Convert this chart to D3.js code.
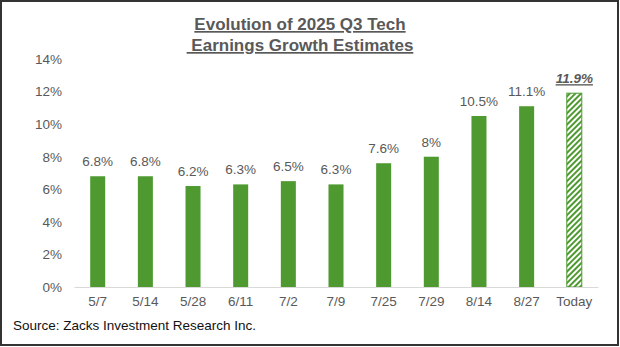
<!DOCTYPE html>
<html>
<head>
<meta charset="utf-8">
<script src="https://cdn.jsdelivr.net/npm/d3@7"></script>
<style>
  html, body { margin: 0; padding: 0; background: #fff; }
  svg { display: block; font-family: "Liberation Sans", Arial, sans-serif; }
</style>
</head>
<body>
<svg id="chart" width="620" height="347"></svg>
<script>
// Q3 2025 tech earnings growth estimates by revision date
const categories = ["5/7", "5/14", "5/28", "6/11", "7/2", "7/9", "7/25", "7/29", "8/14", "8/27", "Today"];
const values = [6.8, 6.8, 6.2, 6.3, 6.5, 6.3, 7.6, 8, 10.5, 11.1, 11.9];
const valueLabels = ["6.8%", "6.8%", "6.2%", "6.3%", "6.5%", "6.3%", "7.6%", "8%", "10.5%", "11.1%", "11.9%"];
const yTicks = [0, 2, 4, 6, 8, 10, 12, 14];
const titleLines = ["Evolution of 2025 Q3 Tech", " Earnings Growth Estimates"];
const sourceText = "Source: Zacks Investment Research Inc.";

const W = 620, H = 347;
const green = "#4e9a31";
const textGray = "#595959";

const svg = d3.select("#chart");

// Hatched fill for the current estimate
const defs = svg.append("defs");
const pat = defs.append("pattern")
  .attr("id", "hatch")
  .attr("patternUnits", "userSpaceOnUse")
  .attr("width", 4).attr("height", 4)
  .attr("patternTransform", "rotate(45)");
pat.append("rect").attr("width", 4).attr("height", 4).attr("fill", "#fff");
pat.append("rect").attr("width", 2).attr("height", 4).attr("fill", green);

// Outer frame
svg.append("rect")
  .attr("x", 1).attr("y", 1).attr("width", W - 3).attr("height", H - 3)
  .attr("fill", "#fff").attr("stroke", "#333").attr("stroke-width", 2);

// Title
const title = svg.append("text")
  .attr("text-anchor", "middle")
  .attr("font-weight", "bold")
  .attr("font-size", 17)
  .attr("fill", textGray)
  .style("white-space", "pre")
  .style("text-decoration", "underline");
titleLines.forEach((t, i) => {
  title.append("tspan").attr("x", 300).attr("y", 30 + i * 21).text(t);
});

const x = d3.scaleBand().domain(categories).range([74, 598]).paddingInner(0.685).paddingOuter(0.34);
const y = d3.scaleLinear().domain([0, 14]).range([287, 59]);

// Y axis labels (no line, no ticks)
const yAxis = svg.append("g")
  .attr("transform", "translate(62,0)")
  .call(d3.axisLeft(y).tickValues(yTicks).tickFormat(d => d + "%").tickSize(0).tickPadding(0));
yAxis.select(".domain").remove();
yAxis.selectAll("text").attr("font-size", 13.5).attr("fill", textGray).attr("font-family", "Liberation Sans, Arial, sans-serif");

// Bars
const n = categories.length;
svg.append("g").selectAll("rect")
  .data(values)
  .join("rect")
  .attr("x", (d, i) => x(categories[i]))
  .attr("y", d => y(d))
  .attr("width", x.bandwidth())
  .attr("height", d => y(0) - y(d))
  .attr("fill", (d, i) => i === n - 1 ? "url(#hatch)" : green)
  .attr("stroke", (d, i) => i === n - 1 ? green : "none")
  .attr("stroke-width", 1);

// Value labels
svg.append("g").selectAll("text")
  .data(values)
  .join("text")
  .attr("x", (d, i) => x(categories[i]) + x.bandwidth() / 2)
  .attr("y", d => y(d) - 10)
  .attr("text-anchor", "middle")
  .attr("font-size", 13.5)
  .attr("fill", textGray)
  .attr("font-weight", (d, i) => i === n - 1 ? "bold" : "normal")
  .attr("font-style", (d, i) => i === n - 1 ? "italic" : "normal")
  .style("text-decoration", (d, i) => i === n - 1 ? "underline" : "none")
  .text((d, i) => valueLabels[i]);

// X axis
const xAxis = svg.append("g")
  .attr("transform", `translate(0,${y(0)})`)
  .call(d3.axisBottom(x).tickSize(0).tickPadding(9));
xAxis.select(".domain").attr("stroke", "#d9d9d9").attr("stroke-width", 1.2);
xAxis.selectAll("text").attr("font-size", 13.5).attr("fill", textGray).attr("font-family", "Liberation Sans, Arial, sans-serif");

// Source note
svg.append("text")
  .attr("x", 13).attr("y", 330)
  .attr("font-size", 13.5)
  .attr("fill", "#111")
  .text(sourceText);
</script>
</body>
</html>
